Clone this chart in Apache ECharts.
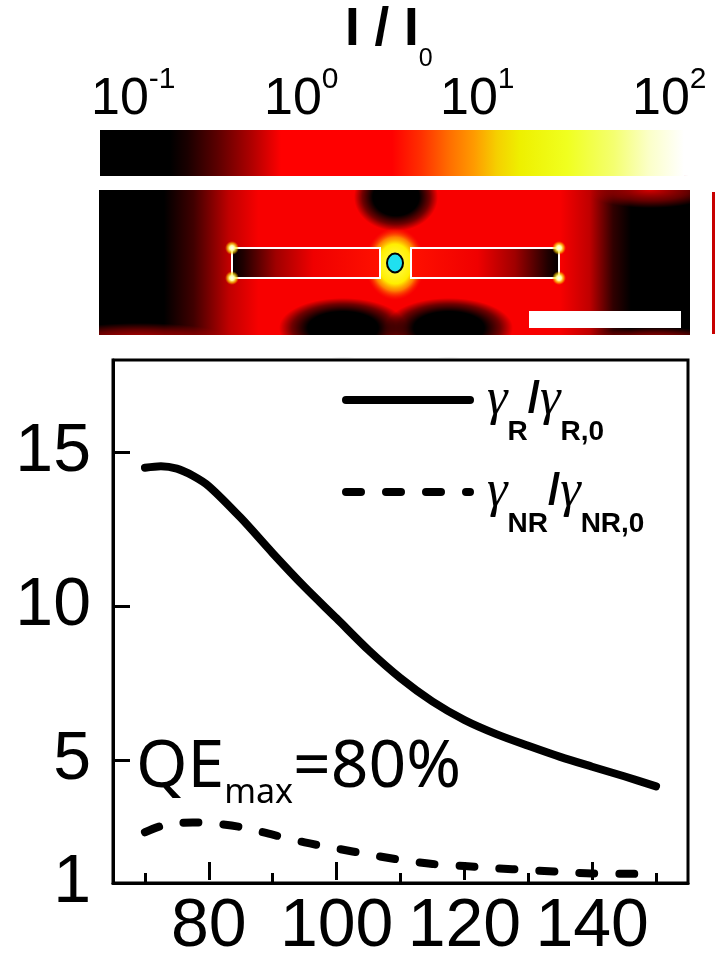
<!DOCTYPE html>
<html><head><meta charset="utf-8">
<script src="https://cdn.jsdelivr.net/npm/echarts@6/dist/echarts.min.js"></script>
<style>html,body{margin:0;padding:0;background:#fff}#c{width:725px;height:961px}</style>
</head><body><div id="c"></div>
<script>
// ---- data ----
const distance = [70, 72.5, 75, 77.5, 80, 85, 90, 95, 100, 105, 110, 115, 120, 125, 130, 135, 140, 145, 150];
const radiativeRate = [14.5, 14.55, 14.47, 14.24, 13.9, 12.87, 11.72, 10.62, 9.6, 8.57, 7.66, 6.9, 6.3, 5.84, 5.46, 5.1, 4.78, 4.47, 4.14];
const nonRadiativeRate = [2.65, 2.85, 2.94, 2.97, 2.95, 2.82, 2.57, 2.32, 2.12, 1.93, 1.75, 1.62, 1.55, 1.48, 1.42, 1.36, 1.31, 1.3, 1.29];
const xMinorTicks = [70, 90, 110, 130, 150];
const xMajorTicks = [80, 100, 120, 140];
const yTicks = [5, 10, 15];
const yLabels = [1, 5, 10, 15];
const colorbarExponents = ['-1', '0', '1', '2'];
const seriesNames = ['γR/γR,0', 'γNR/γNR,0'];
const legendLabels = ['{g0|γ}{s|R}{sl|/}{g|γ}{s|R,0}', '{g0|γ}{s|NR}{sl|/}{g|γ}{s|NR,0}'];
const qeLabel = '{a|QE}{s|max}{a|=80%}';

const SANS = 'Liberation Sans, Arial, sans-serif';
const chart = echarts.init(document.getElementById('c'), null, {renderer: 'canvas'});

const axisLineStyle = {color: '#000', width: 3};

// soft elliptical spot drawn as a scaled square with a radial gradient
function spot(cx, cy, rx, ry, stops) {
  return {type: 'rect', x: cx, y: cy, scaleX: rx, scaleY: ry, silent: true,
    shape: {x: -1, y: -1, width: 2, height: 2},
    style: {fill: {type: 'radial', x: 0.5, y: 0.5, r: 0.5,
      colorStops: stops.map(s => ({offset: s[0], color: s[1]}))}}};
}
const DARK = [[0, 'rgba(0,0,0,1)'], [0.55, 'rgba(0,0,0,1)'], [0.8, 'rgba(0,0,0,0.55)'], [1, 'rgba(0,0,0,0)']];
const REDSPOT = [[0, 'rgba(235,0,0,0.9)'], [0.6, 'rgba(200,0,0,0.5)'], [1, 'rgba(200,0,0,0)']];
const GLOW = [[0, '#ffff60'], [0.55, '#ffee00'], [0.75, 'rgba(255,150,0,0.85)'], [1, 'rgba(255,40,0,0)']];
const CORNER = [[0, '#ffffff'], [0.35, '#ffffa0'], [0.7, 'rgba(255,220,0,0.6)'], [1, 'rgba(255,120,0,0)']];

// colour bar labels
const cbX = [91, 264, 440, 632];
const cbTexts = colorbarExponents.map((e, i) => ({
  type: 'text', x: cbX[i], y: 100,
  style: {
    text: '{b|10}{p|' + e + '}', align: 'left', verticalAlign: 'middle', fill: '#000',
    rich: {
      b: {fontFamily: SANS, fontSize: 52, lineHeight: 52, fill: '#000'},
      p: {fontFamily: SANS, fontSize: 30, lineHeight: 10, padding: [0, 0, 41, 0], fill: '#000'}
    }
  }
}));

const graphics = [
  // field panel base (dark on both sides)
  {type: 'rect', shape: {x: 99, y: 190, width: 591, height: 145},
   style: {fill: {type: 'linear', x: 0, y: 0, x2: 1, y2: 0, colorStops: [
     {offset: 0, color: '#000'}, {offset: 0.11, color: '#000'}, {offset: 0.16, color: '#400000'},
     {offset: 0.22, color: '#c00000'}, {offset: 0.27, color: '#f80000'}, {offset: 0.78, color: '#f80000'},
     {offset: 0.83, color: '#c00000'}, {offset: 0.87, color: '#300000'}, {offset: 0.9, color: '#000'},
     {offset: 1, color: '#000'}]}}},
  // reddish corners
  spot(140, 340, 95, 17, REDSPOT),
  spot(655, 342, 70, 15, REDSPOT),
  spot(650, 190, 65, 18, REDSPOT),
  // dark lobes
  spot(396, 197, 42, 34, DARK),
  spot(343, 328, 64, 30, DARK),
  spot(449, 328, 64, 30, DARK),
  // hot spot in the gap
  spot(395, 264, 30, 36, GLOW),
  // rods
  {type: 'rect', shape: {x: 232, y: 248, width: 148, height: 30},
   style: {stroke: '#fff', lineWidth: 2, fill: {type: 'linear', x: 0, y: 0, x2: 1, y2: 0,
     colorStops: [{offset: 0, color: '#000'}, {offset: 0.08, color: '#200000'}, {offset: 0.3, color: '#a00000'}, {offset: 0.55, color: '#f00000'}, {offset: 1, color: '#ff1000'}]}}},
  {type: 'rect', shape: {x: 411, y: 248, width: 148, height: 30},
   style: {stroke: '#fff', lineWidth: 2, fill: {type: 'linear', x: 0, y: 0, x2: 1, y2: 0,
     colorStops: [{offset: 0, color: '#ff1000'}, {offset: 0.45, color: '#f00000'}, {offset: 0.7, color: '#a00000'}, {offset: 0.92, color: '#200000'}, {offset: 1, color: '#000'}]}}},
  // bright corners
  spot(232, 248, 7, 7, CORNER), spot(232, 278, 7, 7, CORNER),
  spot(559, 248, 7, 7, CORNER), spot(559, 278, 7, 7, CORNER),
  // emitter
  {type: 'ellipse', shape: {cx: 395, cy: 263, rx: 8, ry: 9.5}, style: {fill: '#20e0f0', stroke: '#000', lineWidth: 2}},
  // scale bar
  {type: 'rect', shape: {x: 529, y: 311, width: 152, height: 17}, style: {fill: '#fff'}},
  // white masks around the field panel
  {type: 'rect', shape: {x: 0, y: 176, width: 725, height: 14}, style: {fill: '#fff'}},
  {type: 'rect', shape: {x: 0, y: 176, width: 99, height: 181}, style: {fill: '#fff'}},
  {type: 'rect', shape: {x: 690, y: 176, width: 35, height: 181}, style: {fill: '#fff'}},
  {type: 'rect', shape: {x: 0, y: 335, width: 725, height: 22}, style: {fill: '#fff'}},
  // edge of neighbouring panel
  {type: 'rect', shape: {x: 712, y: 192, width: 3, height: 142}, style: {fill: '#c80000'}},
  // colour bar
  {type: 'rect', shape: {x: 100, y: 130, width: 584, height: 46},
   style: {fill: {type: 'linear', x: 0, y: 0, x2: 1, y2: 0, colorStops: [
     {offset: 0, color: '#000000'}, {offset: 0.12, color: '#000000'}, {offset: 0.15, color: '#1a0000'},
     {offset: 0.2, color: '#5a0000'}, {offset: 0.26, color: '#b00000'}, {offset: 0.31, color: '#ff0000'},
     {offset: 0.5, color: '#ff0000'}, {offset: 0.55, color: '#ff3000'}, {offset: 0.6, color: '#ff7000'},
     {offset: 0.64, color: '#ff9a00'}, {offset: 0.68, color: '#f5d000'}, {offset: 0.72, color: '#eef000'},
     {offset: 0.8, color: '#f0ff20'}, {offset: 0.88, color: '#f4ff70'}, {offset: 0.94, color: '#fbffc8'},
     {offset: 1, color: '#ffffff'}]}}},
  // title
  {type: 'text', x: 345, y: 30, style: {text: '{b|I / I}{s|0}', align: 'left', verticalAlign: 'middle', fill: '#000',
    rich: {
      b: {fontFamily: SANS, fontWeight: 'bold', fontSize: 53, lineHeight: 53, fill: '#000'},
      s: {fontFamily: SANS, fontSize: 25, lineHeight: 10, padding: [58, 0, 0, 0], fill: '#000'}
    }}},
  // QE annotation
  {type: 'text', x: 136, y: 768, z: 100, style: {text: qeLabel, align: 'left', verticalAlign: 'middle', fill: '#000',
    rich: {
      a: {fontFamily: 'Noto Sans, sans-serif', fontSize: 66, lineHeight: 66, fill: '#000'},
      s: {fontFamily: 'Noto Sans, sans-serif', fontSize: 34, lineHeight: 10, padding: [51, 0, 0, 0], fill: '#000'}
    }}}
].concat(cbTexts);

const gammaStyle = {fontFamily: 'Liberation Serif, Times New Roman, serif', fontStyle: 'italic', fontSize: 52, lineHeight: 52, color: '#000'};

const option = {
  animation: false,
  backgroundColor: '#fff',
  graphic: graphics,
  grid: [
    {left: 113, top: 360, right: 37, bottom: 78, show: true, borderColor: '#000', borderWidth: 3, backgroundColor: 'transparent'},
    {left: 113, top: 360, right: 37, bottom: 78}
  ],
  legend: {
    orient: 'vertical', left: 342, top: 354, padding: 0, itemGap: 0,
    itemWidth: 124, itemHeight: 14, selectedMode: false,
    data: seriesNames,
    itemStyle: {opacity: 0, color: 'rgba(0,0,0,0)', borderWidth: 0},
    lineStyle: {width: 8},
    formatter: function (name) { return legendLabels[seriesNames.indexOf(name)]; },
    textStyle: {
      rich: {
        g0: Object.assign({}, gammaStyle, {padding: [0, 0, 0, 12]}),
        g: gammaStyle,
        s: {fontFamily: SANS, fontWeight: 'bold', fontSize: 28, lineHeight: 20, padding: [64, 0, 0, 0], color: '#000'},
        sl: {fontFamily: SANS, fontWeight: 'bold', fontSize: 44, lineHeight: 44, padding: [0, 0, 0, 0], color: '#000'}
      }
    }
  },
  xAxis: [
    {gridIndex: 0, type: 'value', min: 65, max: 155,
     axisLine: {show: true, onZero: false, lineStyle: axisLineStyle},
     axisTick: {show: true, inside: true, length: 10, customValues: xMinorTicks, lineStyle: axisLineStyle},
     axisLabel: {show: false}, splitLine: {show: false}},
    {gridIndex: 1, type: 'value', min: 65, max: 155,
     axisLine: {show: false, onZero: false},
     axisTick: {show: true, inside: true, length: 18, customValues: xMajorTicks, lineStyle: axisLineStyle},
     axisLabel: {show: true, customValues: xMajorTicks, margin: 13, fontSize: 68, fontFamily: SANS, color: '#000'},
     splitLine: {show: false}}
  ],
  yAxis: [
    {gridIndex: 0, type: 'value', min: 1, max: 18,
     axisLine: {show: true, onZero: false, lineStyle: axisLineStyle},
     axisTick: {show: true, inside: true, length: 17, customValues: yTicks, lineStyle: axisLineStyle},
     axisLabel: {show: true, customValues: yLabels, margin: 22, fontSize: 68, fontFamily: SANS, color: '#000'},
     splitLine: {show: false}},
    {gridIndex: 1, type: 'value', min: 1, max: 18, show: false}
  ],
  series: [
    {name: seriesNames[0], type: 'line', xAxisIndex: 0, yAxisIndex: 0, symbol: 'none', smooth: 0.3,
     data: distance.map((d, i) => [d, radiativeRate[i]]),
     itemStyle: {color: '#000'},
     lineStyle: {color: '#000', width: 8, cap: 'round', join: 'round'}},
    {name: seriesNames[1], type: 'line', xAxisIndex: 0, yAxisIndex: 0, symbol: 'none', smooth: 0.3,
     data: distance.map((d, i) => [d, nonRadiativeRate[i]]),
     itemStyle: {color: '#000'},
     lineStyle: {color: '#000', width: 8, cap: 'round', join: 'round', type: [15, 25]}}
  ]
};
chart.setOption(option);
</script>
</body></html>
